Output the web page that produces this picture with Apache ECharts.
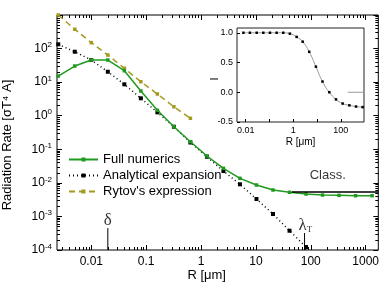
<!DOCTYPE html>
<html><head><meta charset="utf-8">
<script src="https://cdn.jsdelivr.net/npm/echarts@6/dist/echarts.min.js"></script>
<style>html,body{margin:0;padding:0;background:#fff}#c{width:382px;height:295px}</style>
</head><body><div id="c"></div>
<script>
// ---- data ----
const radii = [0.0025, 0.005, 0.01, 0.02, 0.04, 0.08, 0.16, 0.32, 0.64, 1.28, 2.56, 5.12, 10.24, 20.48, 40.96, 81.92, 163.84, 327.68, 655.36, 1310.72];
const fullNumerics = [15.2, 30.2, 45.6, 45.6, 21.9, 5.44, 1.45, 0.47, 0.168, 0.063, 0.0271, 0.01365, 0.00862, 0.00612, 0.00523, 0.00465, 0.00434, 0.00425, 0.00414, 0.00414];
const analytical = [134, 80.6, 45.6, 20.4, 8.6, 3.3, 1.26, 0.47, 0.159, 0.060, 0.0225, 0.00905, 0.0033, 0.00118, 0.000375, 0.000123];
const rytov = [1000, 375, 150, 64.3, 25.8, 10.3, 4.43, 1.85, 0.837];
const classicalR = [45, 1700];
const classicalValue = 0.0053;
const deltaR = 0.02, deltaTop = 4.5e-4;
const lambdaR = 77, lambdaTop = 3.2e-4;
const deltaLabelPos = [0.02, 7.3e-4];
const lambdaLabelPos = [80, 5.5e-4];
const classLabelPos = [204, 0.0171];

const insetR = [0.008, 0.015, 0.029, 0.055, 0.105, 0.2, 0.38, 0.72, 1.39, 2.5, 4.7, 9, 17, 33, 63, 120, 230, 440, 830];
const insetI = [1, 1, 1, 1, 1, 1, 1, 0.985, 0.93, 0.85, 0.68, 0.43, 0.18, 0.0, -0.12, -0.19, -0.22, -0.24, -0.25];
const insetClassR = [195, 950];
const insetClassValue = 0;

const xTickValues = [0.01, 0.1, 1, 10, 100, 1000];
const xTickLabels = ['0.01', '0.1', '1', '10', '100', '1000'];
const yTickValues = [1e-4, 1e-3, 1e-2, 1e-1, 1, 10, 100, 1000];
const yTickExponents = ['-4', '-3', '-2', '-1', '0', '1', '2', '3'];
const yLabelValues = [1e-4, 1e-3, 1e-2, 1e-1, 1, 10, 100];
const insetXTickValues = [0.01, 1, 100];
const insetXTickLabels = ['0.01', '1', '100'];
const insetXMinorTicks = [0.1, 10];

// minor ticks (2..9 per decade)
function minors(majors, lo, hi) {
  const out = [];
  majors.forEach(m => { for (let k = 2; k <= 9; k++) { const v = m * k; if (v > lo && v < hi) out.push(v); } });
  return out;
}
const X_MIN = 0.00237, X_MAX = 1700;
const Y_MIN = 1e-4, Y_MAX = 1e3;
const xMinorTicks = minors([0.001, 0.01, 0.1, 1, 10, 100, 1000], X_MIN, X_MAX);
const yMinorTicks = minors([1e-4, 1e-3, 1e-2, 1e-1, 1, 10, 100], Y_MIN, Y_MAX);

const GREEN = '#1f9a1f', OLIVE = '#a39a1e', FONT = 'Liberation Sans';

const chart = echarts.init(document.getElementById('c'), null, {renderer: 'canvas'});
const pair = (xs, ys) => ys.map((y, i) => [xs[i], y]);

function xAx(pos, vals, len, withLabel) {
  const ax = {
    type: 'log', gridIndex: 0, position: pos, min: X_MIN, max: X_MAX,
    axisLine: {show: false, onZero: false}, splitLine: {show: false},
    axisTick: {show: true, inside: true, length: len, customValues: vals, lineStyle: {color: '#000', width: 1}},
    axisLabel: withLabel ? {show: true, customValues: xTickValues, margin: 6, color: '#000', fontSize: 12, fontFamily: FONT,
      formatter: v => { const i = xTickValues.findIndex(t => Math.abs(Math.log10(t) - Math.log10(v)) < 1e-6); return i >= 0 ? xTickLabels[i] : ''; }} : {show: false}
  };
  if (withLabel) {
    ax.name = 'R [μm]'; ax.nameLocation = 'middle'; ax.nameGap = 19; ax.nameMoveOverlap = false;
    ax.nameTextStyle = {fontSize: 13, fontFamily: FONT, color: '#000', padding: [0, 22, 0, 0]};
  }
  return ax;
}
function yAx(pos, vals, len, withLabel) {
  return {
    type: 'log', gridIndex: 0, position: pos, min: Y_MIN, max: Y_MAX,
    axisLine: {show: false, onZero: false}, splitLine: {show: false},
    axisTick: {show: true, inside: true, length: len, customValues: vals, lineStyle: {color: '#000', width: 1}},
    axisLabel: withLabel ? {show: true, customValues: yLabelValues, margin: 5, color: '#000', fontFamily: FONT,
      formatter: v => { const i = yTickValues.findIndex(t => Math.abs(Math.log10(t) - Math.log10(v)) < 1e-6); return '{b|10}{s|' + yTickExponents[i] + '}'; },
      rich: {b: {fontSize: 12, fontFamily: FONT, color: '#000'}, s: {fontSize: 8, fontFamily: FONT, color: '#000', verticalAlign: 'top', padding: [0, 0, 7, 0]}}} : {show: false}
  };
}

const option = {
  animation: false,
  backgroundColor: '#fff',
  grid: [
    {left: 57, right: 1, top: 15, bottom: 45, show: true, borderColor: '#000', borderWidth: 1, backgroundColor: 'transparent'},
    {left: 237, right: 18, top: 28, bottom: 173, show: true, borderColor: '#222', borderWidth: 1, backgroundColor: '#fff'}
  ],
  xAxis: [
    xAx('bottom', xTickValues, 5, true),
    xAx('bottom', xMinorTicks, 3, false),
    xAx('top', xTickValues, 5, false),
    xAx('top', xMinorTicks, 3, false),
    {type: 'log', gridIndex: 1, position: 'bottom', min: 0.0043, max: 950,
      axisLine: {show: false, onZero: false}, splitLine: {show: false},
      axisTick: {show: true, inside: true, length: 3, customValues: insetXTickValues.concat(insetXMinorTicks), lineStyle: {color: '#000'}},
      axisLabel: {show: true, customValues: insetXTickValues, margin: 4, color: '#000', fontSize: 9, fontFamily: FONT,
        formatter: v => { const i = insetXTickValues.findIndex(t => Math.abs(Math.log10(t) - Math.log10(v)) < 1e-6); return i >= 0 ? insetXTickLabels[i] : ''; }},
      name: 'R [μm]', nameLocation: 'middle', nameGap: 15, nameMoveOverlap: false, nameTextStyle: {fontSize: 10, fontFamily: FONT, color: '#000'}}
  ],
  yAxis: [
    yAx('left', yTickValues, 5, true),
    yAx('left', yMinorTicks, 3, false),
    yAx('right', yTickValues, 5, false),
    yAx('right', yMinorTicks, 3, false),
    {type: 'value', gridIndex: 1, position: 'left', min: -0.5, max: 1.08, interval: 0.5,
      axisLine: {show: false, onZero: false}, splitLine: {show: false},
      axisTick: {show: true, inside: true, length: 3, lineStyle: {color: '#000'}},
      axisLabel: {show: true, showMaxLabel: false, showMinLabel: true, margin: 4, color: '#000', fontSize: 9, fontFamily: FONT, formatter: v => v.toFixed(1)},
      name: 'I', nameLocation: 'middle', nameGap: 17, nameRotate: 90, nameMoveOverlap: false,
      nameTextStyle: {fontSize: 11, fontFamily: FONT, color: '#000', padding: [0, 8, 0, 0]}}
  ],
  legend: {
    show: true, orient: 'vertical', left: 63, top: 148, itemWidth: 29, itemHeight: 5, itemGap: 3,
    textStyle: {fontSize: 13, fontFamily: FONT, color: '#000'},
    data: ['Full numerics', 'Analytical expansion', "Rytov's expression"]
  },
  graphic: [
    {type: 'text', x: 7, y: 145, rotation: Math.PI / 2, style: {text: 'Radiation Rate [σT⁴ A]', font: '13px "Liberation Sans"', fill: '#000', align: 'center', verticalAlign: 'middle'}}
  ],
  series: [
    {name: 'Full numerics', type: 'line', xAxisIndex: 0, yAxisIndex: 0, data: pair(radii, fullNumerics),
      lineStyle: {color: GREEN, width: 1.5}, itemStyle: {color: GREEN}, symbol: 'rect', symbolSize: 3.5, showSymbol: true, z: 4},
    {name: 'Analytical expansion', type: 'line', xAxisIndex: 0, yAxisIndex: 0, data: pair(radii, analytical),
      lineStyle: {color: '#000', width: 1.5, type: [1, 3]}, itemStyle: {color: '#000'}, symbol: 'rect', symbolSize: 4, z: 3},
    {name: "Rytov's expression", type: 'line', xAxisIndex: 0, yAxisIndex: 0, data: pair(radii, rytov),
      lineStyle: {color: OLIVE, width: 1.5, type: [6, 4]}, itemStyle: {color: OLIVE}, symbol: 'rect', symbolSize: 3.5, z: 3},
    {name: 'Classical', type: 'line', xAxisIndex: 0, yAxisIndex: 0, data: classicalR.map(r => [r, classicalValue]),
      lineStyle: {color: '#000', width: 1.5}, symbol: 'none', z: 5},
    {name: 'delta', type: 'line', xAxisIndex: 0, yAxisIndex: 0, data: [[deltaR, Y_MIN], [deltaR, deltaTop]],
      lineStyle: {color: '#000', width: 1}, symbol: 'none'},
    {name: 'lambda', type: 'line', xAxisIndex: 0, yAxisIndex: 0, data: [[lambdaR, Y_MIN], [lambdaR, lambdaTop]],
      lineStyle: {color: '#000', width: 1}, symbol: 'none'},
    {name: 'labels', type: 'scatter', xAxisIndex: 0, yAxisIndex: 0, symbolSize: 0, z: 7,
      data: [
        {value: deltaLabelPos, label: {show: true, position: 'inside', formatter: 'δ', fontFamily: 'Liberation Serif', fontSize: 17, color: '#000'}},
        {value: lambdaLabelPos, label: {show: true, position: 'inside', formatter: '{a|λ}{b|T}',
          rich: {a: {fontFamily: 'Liberation Serif', fontSize: 17, color: '#000'}, b: {fontFamily: 'Liberation Serif', fontSize: 9, color: '#000', verticalAlign: 'bottom', padding: [9, 0, 0, 0]}}}},
        {value: classLabelPos, label: {show: true, position: 'inside', formatter: 'Class.', fontSize: 13, fontFamily: FONT, color: '#000'}}
      ]},
    {name: 'inset', type: 'line', xAxisIndex: 4, yAxisIndex: 4, data: pair(insetR, insetI), smooth: true,
      lineStyle: {color: '#999', width: 1}, itemStyle: {color: '#000'}, symbol: 'rect', symbolSize: 2.5, z: 6},
    {name: 'insetClass', type: 'line', xAxisIndex: 4, yAxisIndex: 4, data: insetClassR.map(r => [r, insetClassValue]),
      lineStyle: {color: '#999', width: 1}, symbol: 'none', z: 6}
  ]
};
chart.setOption(option);
</script></body></html>
